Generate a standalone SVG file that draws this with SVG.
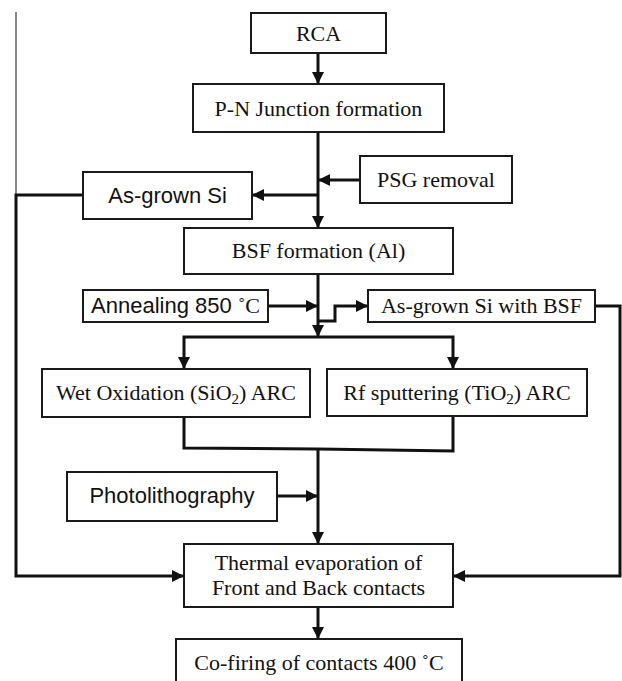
<svg xmlns="http://www.w3.org/2000/svg" width="622" height="681" viewBox="0 0 622 681">
<style>
.box{fill:#fff;stroke:#1a1a1a;stroke-width:2}
.serif{font-family:"Liberation Serif","Times New Roman",serif;font-size:22px;fill:#111;text-anchor:middle}
.sans{font-family:"Liberation Sans",Arial,sans-serif;font-size:22px;fill:#111;text-anchor:middle}
.conn{fill:none;stroke:#111;stroke-width:3}
.arr{marker-end:url(#ah)}
</style>
<defs>
<marker id="ah" markerUnits="userSpaceOnUse" viewBox="0 0 12 12" refX="12" refY="6" markerWidth="12" markerHeight="12" orient="auto">
<path d="M0,0 L12,6 L0,12 z" fill="#111"/>
</marker>
</defs>
<g id="connectors">
<path d="M16,12 V195" fill="none" stroke="#888" stroke-width="2"/>
<path class="conn arr" d="M318,53 V84"/>
<path class="conn arr" d="M318,132 V228"/>
<path class="conn arr" d="M360,180 H318"/>
<path class="conn arr" d="M318,195 H252"/>
<path class="conn arr" d="M83,195 H16 V576 H184"/>
<path class="conn arr" d="M318,274 V337"/>
<path class="conn arr" d="M268,306 H318"/>
<path class="conn arr" d="M318,321 H335 V306 H368"/>
<path class="conn arr" d="M318,337 H184 V369"/>
<path class="conn arr" d="M318,337 H453 V369"/>
<path class="conn" d="M184,417 V448 L318,449"/>
<path class="conn" d="M453,417 V451 L318,449"/>
<path class="conn arr" d="M318,449 V544"/>
<path class="conn arr" d="M277,496 H318"/>
<path class="conn arr" d="M595,306 H620 V576 H453"/>
<path class="conn arr" d="M318,607 V639"/>
</g>
<g id="rca"><rect class="box" x="251" y="13" width="135" height="40"/><text class="serif" x="318.5" y="41">RCA</text></g>
<g id="pn"><rect class="box" x="193" y="84" width="251" height="48"/><text class="serif" x="318.5" y="115.5">P-N Junction formation</text></g>
<g id="psg"><rect class="box" x="360" y="156" width="152" height="47"/><text class="serif" x="436" y="187">PSG removal</text></g>
<g id="asgrown"><rect class="box" x="83" y="172" width="169" height="47"/><text class="sans" x="167.5" y="203">As-grown Si</text></g>
<g id="bsf"><rect class="box" x="184" y="228" width="269" height="46"/><text class="serif" x="318.5" y="258">BSF formation (Al)</text></g>
<g id="anneal"><rect class="box" x="83" y="290" width="185" height="32"/><text class="sans" x="175.5" y="313">Annealing 850 <tspan font-family="'Liberation Serif',serif">˚C</tspan></text></g>
<g id="asgrownbsf"><rect class="box" x="368" y="290" width="227" height="32"/><text class="serif" x="481.5" y="313">As-grown Si with BSF</text></g>
<g id="wetox"><rect class="box" x="42" y="369" width="268" height="48"/><text class="serif" x="176" y="400">Wet Oxidation (SiO<tspan font-size="15" dy="4">2</tspan><tspan dy="-4">) ARC</tspan></text></g>
<g id="rf"><rect class="box" x="327" y="369" width="260" height="47"/><text class="serif" x="457" y="400">Rf sputtering (TiO<tspan font-size="15" dy="4">2</tspan><tspan dy="-4">) ARC</tspan></text></g>
<g id="photo"><rect class="box" x="67" y="472" width="210" height="49"/><text class="sans" x="172" y="503">Photolithography</text></g>
<g id="thermal"><rect class="box" x="184" y="544" width="269" height="63"/><text class="serif" x="318.5" y="570">Thermal evaporation of</text><text class="serif" x="318.5" y="595">Front and Back contacts</text></g>
<g id="cofiring"><rect class="box" x="176" y="639" width="286" height="70"/><text class="serif" x="319" y="670">Co-firing of contacts 400 ˚C</text></g>
</svg>
